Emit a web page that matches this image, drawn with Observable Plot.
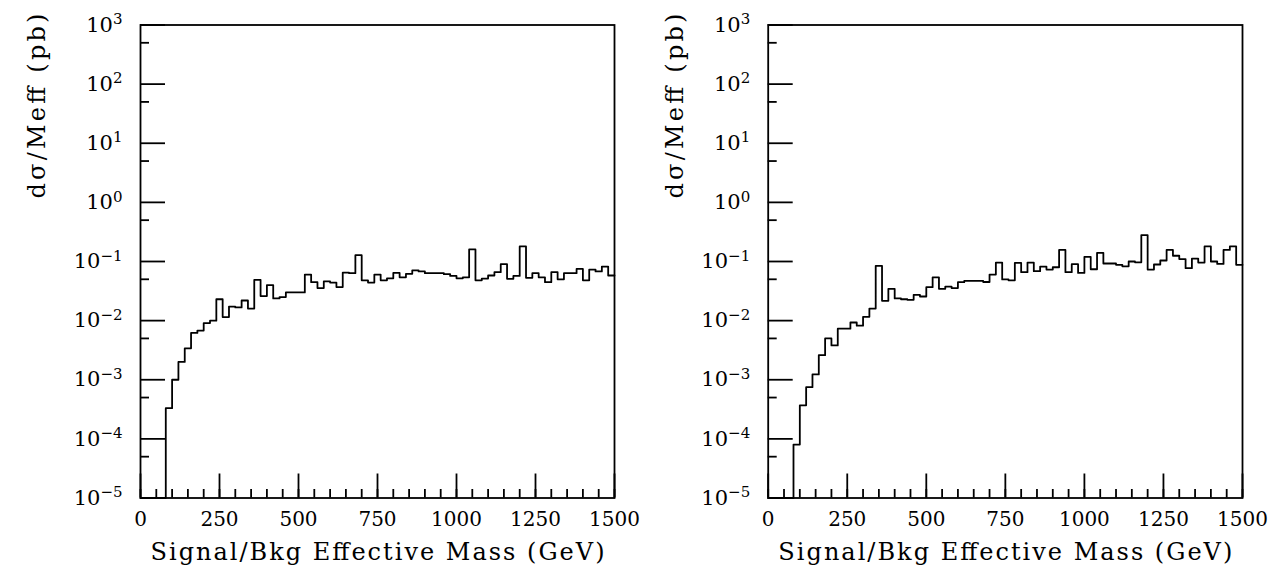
<!DOCTYPE html>
<html>
<head>
<meta charset="utf-8">
<script src="https://cdn.jsdelivr.net/npm/d3@7"></script>
<script src="https://cdn.jsdelivr.net/npm/@observablehq/plot@0.6"></script>
<style>
html, body { margin: 0; padding: 0; background: #fff; }
#wrap { position: relative; width: 1271px; height: 566px; overflow: hidden; background: #fff; }
#wrap > div { position: absolute; top: 0; }
</style>
</head>
<body>
<div id="wrap"><div id="p1" style="left:0px"></div><div id="p2" style="left:635px"></div></div>
<script>
// ---- data ----
const binWidth = 20; // GeV
const xDomain = [0, 1500];
const yDomain = [1e-5, 1e3];
const xMajorTicks = [0, 250, 500, 750, 1000, 1250, 1500];
const xMinorTicks = [0, 50, 100, 150, 200, 250, 300, 350, 400, 450, 500, 550, 600, 650, 700, 750,
  800, 850, 900, 950, 1000, 1050, 1100, 1150, 1200, 1250, 1300, 1350, 1400, 1450, 1500];
const yMajorTicks = [1e-5, 1e-4, 1e-3, 1e-2, 1e-1, 1e0, 1e1, 1e2, 1e3];
const yMinorTicks = [5e-5, 5e-4, 5e-3, 5e-2, 5e-1, 5e0, 5e1, 5e2];
const xLabel = "Signal/Bkg Effective Mass (GeV)";
const yLabel = "dσ/Meff (pb)";

// left panel: 75 bins of 20 GeV (0..1500)
const leftValues = [
  0, 0, 0, 0, 3.3e-4, 1.0e-3, 2.0e-3, 3.4e-3, 6.2e-3, 6.8e-3,
  9.1e-3, 1.0e-2, 2.3e-2, 1.15e-2, 1.73e-2, 1.67e-2, 2.19e-2, 1.6e-2, 4.9e-2, 2.6e-2,
  4.0e-2, 2.37e-2, 2.5e-2, 3.0e-2, 3.0e-2, 3.0e-2, 6.0e-2, 4.47e-2, 3.55e-2, 4.6e-2,
  4.4e-2, 3.7e-2, 6.5e-2, 6.35e-2, 0.128, 4.8e-2, 4.4e-2, 6.0e-2, 4.8e-2, 5.2e-2,
  6.4e-2, 5.4e-2, 6.2e-2, 7.1e-2, 6.8e-2, 6.35e-2, 6.35e-2, 6.35e-2, 6.1e-2, 5.7e-2,
  5.2e-2, 5.4e-2, 0.16, 4.8e-2, 5.15e-2, 5.8e-2, 6.6e-2, 9.0e-2, 5.1e-2, 5.7e-2,
  0.18, 5.3e-2, 6.35e-2, 5.4e-2, 4.47e-2, 6.6e-2, 5.0e-2, 6.35e-2, 6.35e-2, 7.5e-2,
  4.8e-2, 7.3e-2, 6.8e-2, 8.2e-2, 5.8e-2
];
// right panel
const rightValues = [
  0, 0, 0, 0, 8.0e-5, 3.7e-4, 7.5e-4, 1.23e-3, 2.6e-3, 5.0e-3,
  3.8e-3, 7.3e-3, 7.3e-3, 9.3e-3, 8.2e-3, 1.16e-2, 1.6e-2, 8.45e-2, 2.16e-2, 3.45e-2,
  2.37e-2, 2.3e-2, 2.25e-2, 2.73e-2, 2.56e-2, 3.68e-2, 5.4e-2, 3.45e-2, 3.77e-2, 3.55e-2,
  4.47e-2, 4.7e-2, 4.7e-2, 4.7e-2, 4.5e-2, 6.0e-2, 9.6e-2, 4.97e-2, 4.8e-2, 9.5e-2,
  6.6e-2, 9.6e-2, 6.85e-2, 8.2e-2, 7.3e-2, 8.0e-2, 0.157, 6.6e-2, 9.0e-2, 6.4e-2,
  0.12, 7.4e-2, 0.14, 9.25e-2, 9.25e-2, 8.8e-2, 8.3e-2, 0.10, 9.7e-2, 0.28,
  7.3e-2, 8.9e-2, 0.104, 0.157, 0.125, 0.11, 7.7e-2, 0.112, 9.6e-2, 0.18,
  0.10, 9.1e-2, 0.157, 0.18, 8.8e-2
];

function steps(values) {
  const pts = values.map((v, i) => ({x: i * binWidth, y: Math.max(v, yDomain[0])}));
  pts.push({x: values.length * binWidth, y: pts[pts.length - 1].y});
  return pts;
}

const FONT = "'DejaVu Serif', serif";
const SW = 1.8;

function panel(values, o) {
  const svg = Plot.plot({
    width: o.width, height: 566,
    marginLeft: o.ml, marginRight: o.mr, marginTop: 24.5, marginBottom: 68.5,
    style: {fontFamily: FONT, background: "transparent", color: "black", overflow: "visible"},
    x: {domain: xDomain},
    y: {type: "log", domain: yDomain},
    marks: [
      // inward tick marks
      Plot.axisY({ticks: yMajorTicks, anchor: "left", tickSize: 25, dx: 25, fill: "none", label: null, stroke: "black", strokeWidth: SW}),
      Plot.axisY({ticks: yMinorTicks, anchor: "left", tickSize: 9, dx: 9, fill: "none", label: null, stroke: "black", strokeWidth: SW}),
      Plot.axisX({ticks: xMajorTicks, anchor: "bottom", tickSize: 24, dy: -24, fill: "none", label: null, stroke: "black", strokeWidth: SW}),
      Plot.axisX({ticks: xMinorTicks, anchor: "bottom", tickSize: 8.5, dy: -8.5, fill: "none", label: null, stroke: "black", strokeWidth: SW}),
      // tick labels
      Plot.axisY({ticks: yMajorTicks, anchor: "left", tickSize: 0, tickPadding: 18, fontSize: 21, label: null, fill: "black",
        tickFormat: d => "10^" + Math.round(Math.log10(d))}),
      Plot.axisX({ticks: xMajorTicks, anchor: "bottom", tickSize: 0, tickPadding: 14, fontSize: 20, label: null, fill: "black",
        tickFormat: d => String(d)}),
      Plot.frame({stroke: "black", strokeWidth: SW}),
      Plot.line(steps(values), {x: "x", y: "y", curve: "step-after", stroke: "black", strokeWidth: SW}),
      Plot.text([xLabel], {text: d => d, frameAnchor: "bottom", lineAnchor: "bottom", dy: 61.5, fontSize: 24, fill: "black"}),
      Plot.text([yLabel], {text: d => d, frameAnchor: "top-left", rotate: -90, textAnchor: "end", lineAnchor: "bottom",
        dx: o.ylabDx, dy: -11.5, fontSize: 24, fill: "black"})
    ]
  });
  const s = d3.select(svg);
  // superscript exponents on the y tick labels
  s.selectAll('[aria-label="y-axis tick label"] text').each(function () {
    const t = d3.select(this);
    const str = t.text();
    if (!str.includes("^")) return;
    const [b, e] = str.split("^");
    t.text(null);
    t.append("tspan").text(b);
    t.append("tspan").attr("dy", "-0.5em").attr("font-size", "15px").text(e.replace("-", "\u2212"));
  });
  // stretch axis titles to the reference's wide letter spacing
  s.selectAll('g[aria-label="text"] text').each(function () {
    const t = d3.select(this);
    const str = t.text();
    if (str === xLabel) t.attr("textLength", 454).attr("lengthAdjust", "spacing");
    if (str === yLabel) t.attr("textLength", 185).attr("lengthAdjust", "spacing");
  });
  return svg;
}

document.getElementById("p1").appendChild(panel(leftValues, {width: 635, ml: 140, mr: 21, ylabDx: -96}));
document.getElementById("p2").appendChild(panel(rightValues, {width: 636, ml: 132.7, mr: 29, ylabDx: -85}));
</script>
</body>
</html>
